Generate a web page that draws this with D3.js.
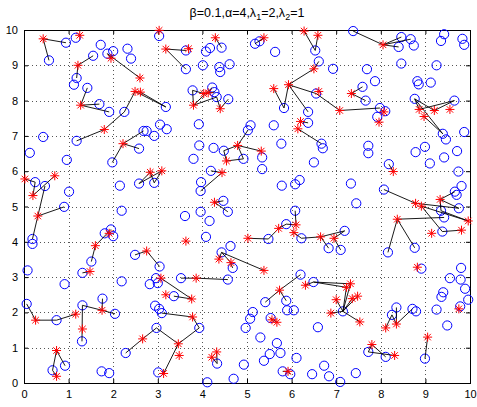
<!DOCTYPE html>
<html>
<head>
<meta charset="utf-8">
<script src="https://cdn.jsdelivr.net/npm/d3@7"></script>
<style>
  body { margin: 0; background: #fff; }
  text { font-family: "Liberation Sans", Arial, sans-serif; }
</style>
</head>
<body>
<script>
// blue circles
var circleX = [0.94,0.56,1.16,1.72,1.55,1.18,1.12,1.87,2.0,2.32,2.40,1.42,1.69,1.91,1.18,2.25,3.18,0.43,3.03,3.05,3.2,2.92,2.68,2.75,2.58,
  3.63,3.63,4.43,4.08,4.17,4.01,4.38,4.40,4.61,5.18,5.28,5.63,6.53,6.61,5.83,6.37,6.55,6.37,6.67,3.78,4.22,4.27,4.32,4.58,3.92,5.08,5.02,5.60,5.77,3.93,4.25,
  7.38,8.46,8.67,8.40,8.74,9.42,9.35,9.83,9.87,8.46,9.25,6.93,7.69,7.87,8.82,8.85,9.12,7.98,8.1,7.92,7.59,7.66,8.76,9.65,9.39,9.46,9.87,7.72,8.99,
  0.13,0.96,1.98,0.25,0.47,0.90,0.19,0.19,1.01,2.15,2.19,2.58,2.92,1.81,1.95,2.0,1.51,2.49,3.04,
  4.48,4.92,5.34,5.34,3.80,4.19,3.97,3.96,6.50,5.78,6.08,6.18,4.47,4.57,3.96,3.61,4.16,4.08,6.08,5.88,5.48,6.22,4.63,4.43,
  6.70,7.72,8.78,9.10,9.42,9.71,9.74,8.18,7.33,7.45,8.07,9.66,9.70,9.81,9.75,9.35,9.42,9.38,8.16,8.76,7.19,6.83,7.10,
  0.08,1.31,0.91,2.19,2.96,3.0,2.82,3.36,2.94,3.03,3.09,0.06,0.73,1.31,1.76,2.04,1.30,2.28,2.97,3.01,0.64,0.92,1.74,1.91,
  4.68,3.52,4.57,3.93,4.11,4.33,4.70,4.93,4.97,5.07,5.13,5.30,5.67,5.75,5.51,5.38,5.41,6.20,5.88,6.49,5.90,6.05,5.53,6.59,6.11,5.80,5.97,6.46,6.73,
  8.91,7.15,8.35,8.25,8.71,8.79,8.99,7.72,8.11,6.84,7.09,7.44,9.80,9.55,9.79,9.89,9.40,9.36,9.96,9.78,9.25,9.49];
var circleY = [9.64,9.14,9.78,9.58,9.27,8.64,8.45,9.33,9.40,9.47,9.19,8.36,7.90,7.68,6.86,7.68,7.82,6.97,9.83,7.32,7.19,7.0,7.14,7.14,6.64,
  9.42,8.89,9.5,9.39,9.49,9.0,8.95,8.81,9.03,9.61,9.68,9.38,9.42,9.11,7.79,7.68,8.2,7.37,6.78,8.29,8.37,8.24,8.10,8.04,7.33,7.30,7.16,7.30,6.78,6.73,6.66,
  9.97,9.80,9.74,9.52,9.56,9.88,9.69,9.75,9.58,9.05,9.0,8.90,8.89,8.55,8.55,8.46,8.51,7.79,7.70,7.54,8.39,8.0,8.05,8.0,7.06,6.9,7.11,6.72,6.69,
  6.52,6.32,6.25,5.69,5.58,4.99,4.08,3.94,5.42,5.59,4.88,5.65,5.67,4.24,4.35,4.16,3.44,3.63,3.3,
  6.58,6.35,6.39,6.06,6.35,6.01,5.69,5.44,6.25,5.59,5.63,5.75,5.16,4.85,4.85,4.73,4.59,4.14,4.88,4.50,4.08,4.10,3.88,3.70,
  6.65,6.51,6.54,6.22,6.39,6.57,5.99,6.20,5.65,5.09,5.48,5.42,5.33,5.58,4.95,4.88,4.69,4.29,3.70,3.83,4.31,3.82,3.77,
  3.19,3.12,2.80,2.88,2.97,2.83,2.80,2.46,2.19,2.10,1.98,2.24,1.78,2.20,2.39,1.96,1.18,0.85,1.56,0.30,0.36,0.49,0.33,0.28,
  3.26,2.97,2.93,1.56,0.02,0.55,0.12,0.52,1.56,1.82,2.01,1.29,1.13,0.85,0.82,0.63,2.29,3.07,2.33,2.86,2.06,2.06,1.84,1.58,0.71,0.33,0.25,0.25,0.49,
  3.24,2.03,2.14,1.93,2.10,2.03,0.69,0.88,0.74,0.19,0.03,0.28,3.26,2.97,2.93,2.67,2.57,2.44,2.36,2.17,2.08,1.63];

// red stars
var starX = [0.43,1.25,1.21,1.95,2.6,1.27,1.80,2.49,2.61,3.03,3.18,2.22,
  3.69,4.29,5.38,6.28,6.59,6.50,5.93,5.60,6.61,6.20,6.14,4.03,4.13,3.80,4.40,4.79,
  8.05,7.08,8.07,7.96,7.34,8.86,8.97,9.2,9.55,
  0.02,0.20,0.69,0.31,2.83,3.09,1.60,1.91,2.75,
  4.54,5.32,4.44,4.27,3.63,6.10,5.71,5.02,6.05,6.65,4.37,4.64,
  8.28,8.78,8.91,9.33,9.96,9.81,9.14,8.37,6.95,
  1.48,3.07,3.18,0.26,1.16,1.75,1.31,2.66,3.13,0.73,0.73,
  5.38,3.86,3.76,3.78,3.46,3.48,4.21,4.32,5.73,6.31,5.56,5.67,5.92,
  8.82,7.32,7.23,7.00,7.36,7.48,6.88,7.53,8.11,8.35,9.05,7.80,8.31,9.75];
var starY = [9.75,9.85,9.0,9.2,8.64,7.87,7.18,8.26,8.24,9.99,9.46,6.78,
  9.47,9.78,9.78,9.97,9.85,8.90,8.45,8.34,8.26,7.41,7.2,8.2,8.22,7.87,7.77,6.73,
  9.58,7.72,7.68,7.39,8.2,7.75,7.55,7.72,7.75,
  5.78,5.31,5.87,4.73,5.97,6.01,3.89,4.24,3.74,
  6.29,6.57,5.96,5.12,4.02,4.48,4.38,4.10,4.26,4.14,3.51,3.41,
  5.99,5.09,5.01,5.20,4.59,4.33,4.24,4.64,4.10,
  3.16,2.97,2.50,1.78,1.95,2.06,1.53,1.25,0.27,0.92,0.19,
  3.19,2.97,2.38,1.87,1.11,0.78,0.73,0.88,2.63,2.77,1.79,1.72,0.33,
  3.28,2.81,2.71,2.36,2.39,2.46,1.98,1.73,1.56,1.67,1.30,1.09,0.78,2.10];

// black links: [x1, y1, x2, y2]
var links = [
  [0.43,9.75,0.94,9.64],[0.43,9.75,0.56,9.14],[1.21,9.0,1.55,9.27],[1.21,9.0,1.18,8.64],
  [1.87,9.33,2.6,8.64],[1.95,9.2,1.87,9.33],[1.27,7.87,1.42,8.36],[1.27,7.87,1.69,7.90],
  [1.27,7.87,1.91,7.68],[1.80,7.18,1.18,6.86],[1.80,7.18,2.25,7.68],[2.25,7.68,2.49,8.26],
  [2.49,8.26,3.18,7.82],[2.61,8.24,3.18,7.82],[2.22,6.78,2.68,7.14],[2.22,6.78,2.58,6.64],
  [3.18,9.46,3.63,9.42],[3.18,9.46,3.63,8.89],[4.29,9.78,4.43,9.5],[5.38,9.78,5.18,9.61],
  [5.38,9.78,5.28,9.68],[6.28,9.97,6.53,9.42],[6.59,9.85,6.53,9.42],[6.50,8.90,6.61,9.11],
  [6.50,8.90,5.93,8.45],[5.93,8.45,5.83,7.79],[5.60,8.34,5.83,7.79],[5.93,8.45,6.37,7.68],
  [5.93,8.45,6.55,8.2],[6.55,8.2,7.08,7.72],[6.14,7.2,6.67,6.78],[6.20,7.41,6.37,7.37],
  [3.80,7.87,3.78,8.29],[3.80,7.87,4.22,8.37],[3.80,7.87,4.32,8.10],[4.03,8.2,4.27,8.24],
  [3.78,8.29,4.03,8.2],[4.40,7.77,4.32,8.10],[4.40,7.77,4.58,8.04],[4.79,6.73,5.02,7.16],
  [7.38,9.97,8.05,9.58],[8.05,9.58,8.46,9.80],[8.05,9.58,8.67,9.74],[8.05,9.58,8.40,9.52],
  [7.08,7.72,7.98,7.79],[7.34,8.2,7.59,8.39],[7.34,8.2,7.66,8.0],[8.86,7.75,8.76,8.05],
  [8.76,8.05,9.2,7.72],[9.2,7.72,9.65,8.0],[8.86,7.75,9.65,8.0],[8.76,8.05,9.39,7.06],
  [8.97,7.55,9.39,7.06],
  [2.22,6.78,1.98,6.25],[0.02,5.78,0.25,5.69],[0.20,5.31,0.25,5.69],[0.20,5.31,0.69,5.87],
  [0.31,4.73,0.47,5.58],[0.31,4.73,0.90,4.99],[0.31,4.73,0.19,4.08],[2.58,5.65,2.83,5.97],
  [2.58,5.65,3.09,6.01],[2.83,5.97,2.92,5.67],[2.92,5.67,3.09,6.01],[1.60,3.89,1.51,3.44],
  [1.60,3.89,1.95,4.35],[2.49,3.63,2.75,3.74],[2.75,3.74,3.04,3.3],
  [4.48,6.58,4.79,6.73],[4.48,6.58,4.54,6.29],[4.54,6.29,4.92,6.35],[4.79,6.73,4.92,6.35],
  [4.79,6.73,5.32,6.57],[4.19,6.01,4.44,5.96],[4.44,5.96,3.96,5.44],[4.27,5.12,4.47,5.16],
  [4.27,5.12,4.57,4.85],[6.08,4.88,6.10,4.48],[6.10,4.48,5.88,4.50],[5.88,4.50,5.71,4.38],
  [5.71,4.38,5.48,4.08],[5.48,4.08,5.02,4.10],[6.05,4.26,6.22,4.10],[6.22,4.10,6.65,4.14],
  [4.43,3.70,4.37,3.51],[4.43,3.70,4.64,3.41],[4.43,3.70,5.38,3.19],
  [8.18,6.20,8.28,5.99],[8.07,5.48,8.78,5.09],[9.33,5.20,9.66,5.42],[9.33,5.20,9.35,4.88],
  [9.33,5.20,9.75,4.95],[8.78,5.09,9.75,4.95],[8.91,5.01,9.96,4.59],[9.35,4.88,9.96,4.59],
  [8.91,5.01,9.38,4.29],[9.38,4.29,9.81,4.33],[8.37,4.64,9.42,4.69],[8.37,4.64,8.16,3.70],
  [8.37,4.64,8.76,3.83],[6.65,4.14,7.19,4.31],[6.65,4.14,6.83,3.82],[6.95,4.10,7.19,4.31],
  [6.95,4.10,7.10,3.77],
  [1.31,3.12,1.48,3.16],[3.07,2.97,3.76,2.38],[3.36,2.46,3.76,2.38],[3.52,2.97,3.86,2.97],
  [3.86,2.97,4.57,2.93],[0.06,2.24,0.26,1.78],[0.26,1.78,0.73,1.78],[0.73,1.78,1.16,1.95],
  [1.31,2.20,1.75,2.06],[1.75,2.06,1.76,2.39],[1.75,2.06,2.04,1.96],[1.31,2.20,1.30,1.18],
  [2.28,0.85,2.66,1.25],[2.66,1.25,2.97,1.56],[0.73,0.92,0.64,0.36],[0.73,0.92,0.92,0.49],
  [0.64,0.36,0.73,0.19],
  [4.63,3.40,4.68,3.26],[3.09,1.98,3.78,1.87],[3.78,1.87,3.93,1.56],[3.93,1.56,3.46,1.11],
  [2.97,1.56,3.46,1.11],[3.46,1.11,3.13,0.27],[4.21,0.73,4.33,0.55],[4.32,0.88,4.33,0.55],
  [5.41,2.29,5.73,2.63],[5.73,2.63,6.20,3.07],[5.73,2.63,5.88,2.33],[6.31,2.77,6.49,2.86],
  [6.49,2.86,7.32,2.81],[6.49,2.86,7.23,2.71],[5.53,1.84,5.67,1.72],[5.80,0.33,5.92,0.33],
  [5.92,0.33,5.97,0.25],
  [7.15,2.03,7.32,2.81],[7.15,2.03,7.23,2.71],[7.15,2.03,7.00,2.36],[7.15,2.03,7.36,2.39],
  [7.15,2.03,7.48,2.46],[7.15,2.03,6.88,1.98],[7.15,2.03,7.53,1.73],[8.35,2.14,8.35,1.67],
  [8.11,1.56,8.25,1.93],[8.25,1.93,8.35,1.67],[8.35,1.67,8.71,2.10],[9.05,1.30,8.99,0.69],
  [7.72,0.88,7.80,1.09],[7.80,1.09,8.11,0.74],[7.72,0.88,8.31,0.78]
];

var ticks = [0,1,2,3,4,5,6,7,8,9,10];

var w = 477, h = 407;
var padL = 24, padR = 470, padT = 30, padB = 383;

var xScale = d3.scaleLinear().domain([0, 10]).range([padL, padR]);
var yScale = d3.scaleLinear().domain([0, 10]).range([padB, padT]);

var svg = d3.select("body").append("svg")
    .attr("width", w)
    .attr("height", h);

// dotted grid
svg.append("g").selectAll("line")
   .data(ticks.slice(1, -1))
   .enter().append("line")
   .attr("x1", function(d) { return Math.round(xScale(d)) + 0.5; })
   .attr("x2", function(d) { return Math.round(xScale(d)) + 0.5; })
   .attr("y1", padT).attr("y2", padB)
   .attr("stroke", "#555").attr("stroke-dasharray", "1,3");
svg.append("g").selectAll("line")
   .data(ticks.slice(1, -1))
   .enter().append("line")
   .attr("y1", function(d) { return Math.round(yScale(d)) + 0.5; })
   .attr("y2", function(d) { return Math.round(yScale(d)) + 0.5; })
   .attr("x1", padL).attr("x2", padR)
   .attr("stroke", "#555").attr("stroke-dasharray", "1,3");

// axes (ticks point inward, on all four sides)
svg.append("g").attr("transform", "translate(0," + padB + ")")
   .call(d3.axisBottom(xScale).tickValues(ticks).tickSizeInner(-4).tickSizeOuter(0).tickPadding(7));
svg.append("g").attr("transform", "translate(0," + padT + ")")
   .call(d3.axisTop(xScale).tickValues(ticks).tickSizeInner(-4).tickSizeOuter(0).tickFormat(""));
svg.append("g").attr("transform", "translate(" + padL + ",0)")
   .call(d3.axisLeft(yScale).tickValues(ticks).tickSizeInner(-4).tickSizeOuter(0).tickPadding(6));
svg.append("g").attr("transform", "translate(" + padR + ",0)")
   .call(d3.axisRight(yScale).tickValues(ticks).tickSizeInner(-4).tickSizeOuter(0).tickFormat(""));
svg.selectAll(".domain").remove();
svg.selectAll(".tick text").attr("font-size", "11px").attr("fill", "#000")
   .style("font-family", "'Liberation Sans', Arial, sans-serif");

svg.append("rect")
   .attr("x", padL + 0.5).attr("y", padT + 0.5)
   .attr("width", padR - padL).attr("height", padB - padT)
   .attr("fill", "none").attr("stroke", "#000");

// blue circles
svg.append("g").selectAll("circle")
   .data(d3.range(circleX.length))
   .enter().append("circle")
   .attr("cx", function(i) { return xScale(circleX[i]); })
   .attr("cy", function(i) { return yScale(circleY[i]); })
   .attr("r", 4.6)
   .attr("fill", "none")
   .attr("stroke", "#0000ff")
   .attr("stroke-width", 1);

// links
svg.append("g").selectAll("line")
   .data(links)
   .enter().append("line")
   .attr("x1", function(d) { return xScale(d[0]); })
   .attr("y1", function(d) { return yScale(d[1]); })
   .attr("x2", function(d) { return xScale(d[2]); })
   .attr("y2", function(d) { return yScale(d[3]); })
   .attr("stroke", "#000")
   .attr("stroke-width", 0.9);

// red asterisks
var s = 4.5;
var starPath = "M" + (-s) + ",0L" + s + ",0M0," + (-s) + "L0," + s +
    "M" + (-s * 0.72) + "," + (-s * 0.72) + "L" + (s * 0.72) + "," + (s * 0.72) +
    "M" + (-s * 0.72) + "," + (s * 0.72) + "L" + (s * 0.72) + "," + (-s * 0.72);
svg.append("g").selectAll("path")
   .data(d3.range(starX.length))
   .enter().append("path")
   .attr("d", starPath)
   .attr("transform", function(i) {
      return "translate(" + xScale(starX[i]) + "," + yScale(starY[i]) + ")";
   })
   .attr("fill", "none")
   .attr("stroke", "#ff0000")
   .attr("stroke-width", 1);

// title
var title = svg.append("text")
   .attr("x", (padL + padR) / 2)
   .attr("y", 17)
   .attr("text-anchor", "middle")
   .attr("font-size", "12.5px")
   .attr("fill", "#000");
title.append("tspan").text("β=0.1,α=4,λ");
title.append("tspan").attr("font-size", "9px").attr("dy", 3).text("1");
title.append("tspan").attr("dy", -3).text("=2,λ");
title.append("tspan").attr("font-size", "9px").attr("dy", 3).text("2");
title.append("tspan").attr("dy", -3).text("=1");
</script>
</body>
</html>
